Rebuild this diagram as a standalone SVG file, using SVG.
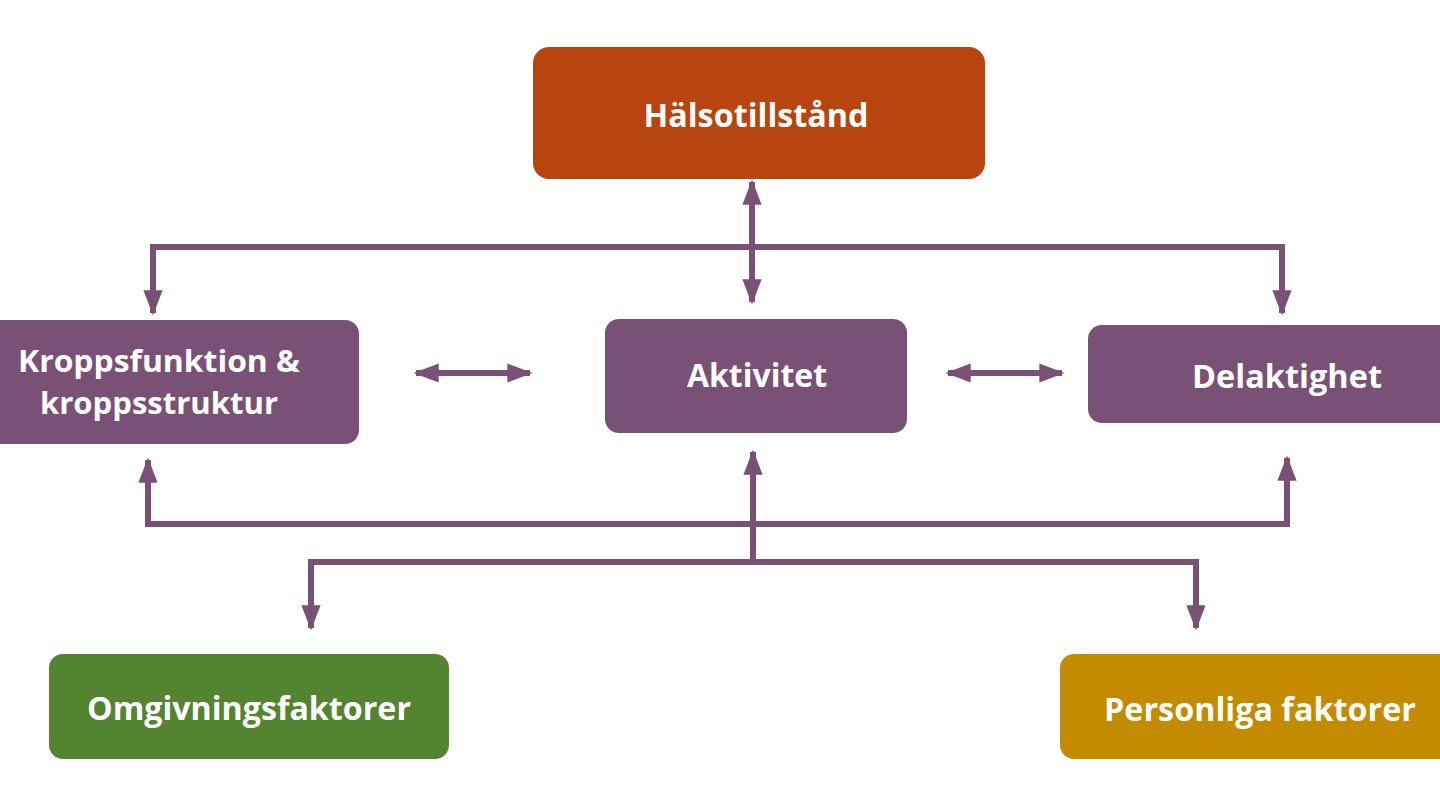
<svg xmlns="http://www.w3.org/2000/svg" width="1440" height="810" viewBox="0 0 1440 810">
<defs>
<style>
.lbl{font-family:"Open Sans","Noto Sans","Liberation Sans",sans-serif;font-weight:700;font-size:33px;fill:#ffffff;text-anchor:middle}
.sm{font-size:30px}
.con{stroke:#795176;stroke-width:6;fill:none}
.purple{fill:#795176}
</style>
<marker id="ah" viewBox="0 0 10 10" refX="9" refY="5" markerWidth="4.2" markerHeight="3.2" orient="auto-start-reverse" markerUnits="strokeWidth" preserveAspectRatio="none">
<path d="M0,0 L10,5 L0,10 z" fill="#795176"/>
</marker>
</defs>
<rect width="1440" height="810" fill="#ffffff"/>
<g id="connectors">
<path class="con" d="M153,247 H1283"/>
<path class="con" d="M153,244 V313" marker-end="url(#ah)"/>
<path class="con" d="M1282,244 V313" marker-end="url(#ah)"/>
<path class="con" d="M752,182 V302" marker-start="url(#ah)" marker-end="url(#ah)"/>
<path class="con" d="M416,373 H530" marker-start="url(#ah)" marker-end="url(#ah)"/>
<path class="con" d="M948,373 H1062" marker-start="url(#ah)" marker-end="url(#ah)"/>
<path class="con" d="M148,527 V460" marker-end="url(#ah)"/>
<path class="con" d="M1287,527 V458" marker-end="url(#ah)"/>
<path class="con" d="M145,524 H1290"/>
<path class="con" d="M753,565 V452" marker-end="url(#ah)"/>
<path class="con" d="M311,562 H1198"/>
<path class="con" d="M311,559 V628" marker-end="url(#ah)"/>
<path class="con" d="M1196,559 V628" marker-end="url(#ah)"/>
</g>
<g id="node-halsotillstand">
<rect x="533" y="47" width="452" height="132" rx="16" fill="#B8440F"/>
<text class="lbl" x="756" y="127" textLength="225" lengthAdjust="spacingAndGlyphs">Hälsotillstånd</text>
</g>
<g id="node-kroppsfunktion">
<rect x="-20" y="320" width="379" height="124" rx="14" class="purple"/>
<text class="lbl sm" x="159" y="372" textLength="282" lengthAdjust="spacingAndGlyphs">Kroppsfunktion &amp;</text>
<text class="lbl sm" x="159" y="414" textLength="238" lengthAdjust="spacingAndGlyphs">kroppsstruktur</text>
</g>
<g id="node-aktivitet">
<rect x="605" y="319" width="302" height="114" rx="14" class="purple"/>
<text class="lbl" x="757" y="387" textLength="140" lengthAdjust="spacingAndGlyphs">Aktivitet</text>
</g>
<g id="node-delaktighet">
<rect x="1088" y="325" width="372" height="98" rx="14" class="purple"/>
<text class="lbl" x="1287" y="388" textLength="190" lengthAdjust="spacingAndGlyphs">Delaktighet</text>
</g>
<g id="node-omgivningsfaktorer">
<rect x="49" y="654" width="400" height="105" rx="14" fill="#538430"/>
<text class="lbl" x="249" y="720" textLength="324" lengthAdjust="spacingAndGlyphs">Omgivningsfaktorer</text>
</g>
<g id="node-personliga">
<rect x="1060" y="654" width="400" height="105" rx="14" fill="#C48A00"/>
<text class="lbl" x="1260" y="721" textLength="312" lengthAdjust="spacingAndGlyphs">Personliga faktorer</text>
</g>
</svg>
